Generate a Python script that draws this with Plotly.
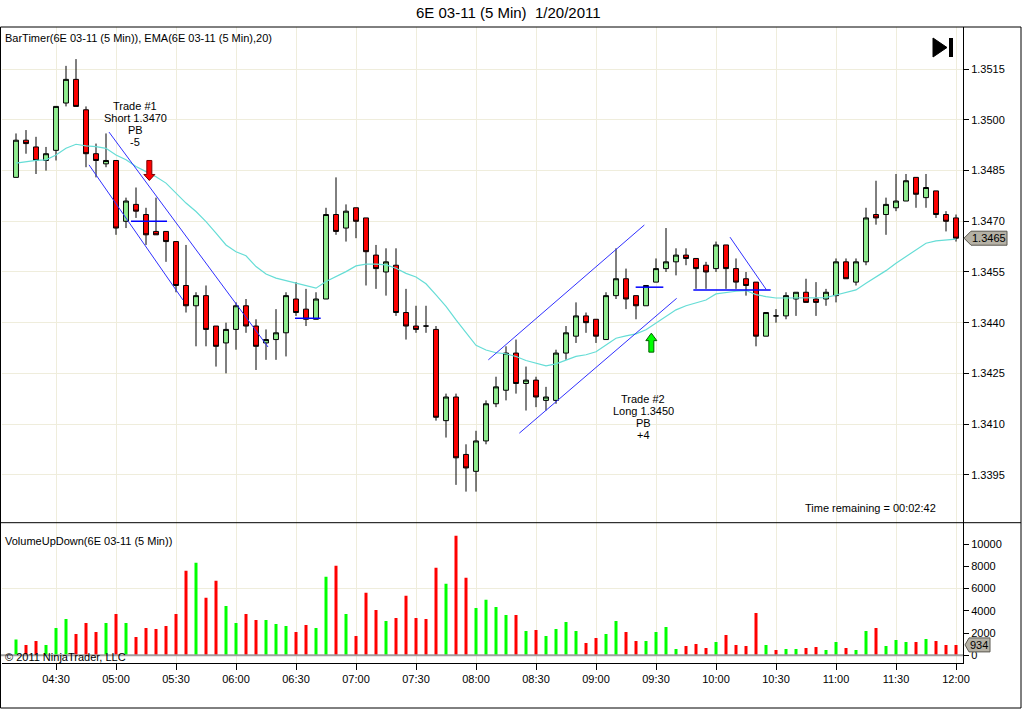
import pandas as pd
import plotly.graph_objects as go

# 5 minute bars, 6E 03-11, 20 Jan 2011
times = pd.date_range("2011-01-20 04:10", "2011-01-20 12:00", freq="5min")

opens = [1.3483, 1.3494, 1.3492, 1.3488, 1.3491, 1.3505, 1.3512, 1.3503, 1.3490, 1.3487,
         1.3488, 1.3470, 1.3475, 1.3472, 1.3467, 1.3467, 1.3464, 1.3451, 1.3445, 1.3448,
         1.3439, 1.3434, 1.3438, 1.3445, 1.3439, 1.3434, 1.3435, 1.3437, 1.3447, 1.3444,
         1.3441, 1.3447, 1.3472, 1.3468, 1.3474, 1.3471, 1.3460, 1.3455, 1.3457, 1.3443,
         1.3439, 1.3439, 1.3438, 1.3411, 1.3418, 1.3401, 1.3396, 1.3405, 1.3416, 1.3420,
         1.3431, 1.3422, 1.3423, 1.3417, 1.3417, 1.3431, 1.3436, 1.3442, 1.3441, 1.3435,
         1.3448, 1.3453, 1.3448, 1.3445, 1.3452, 1.3456, 1.3458, 1.3460, 1.3459, 1.3457,
         1.3456, 1.3463, 1.3456, 1.3453, 1.3452, 1.3436, 1.3442, 1.3442, 1.3447, 1.3449,
         1.3447, 1.3447, 1.3448, 1.3458, 1.3452, 1.3458, 1.3472, 1.3472, 1.3474, 1.3476,
         1.3483, 1.3477, 1.3479, 1.3472, 1.3471]
highs = [1.3496, 1.3497, 1.3495, 1.3492, 1.3504, 1.3516, 1.3518, 1.3504, 1.3493, 1.3496,
         1.3488, 1.3477, 1.3480, 1.3474, 1.3477, 1.3467, 1.3464, 1.3463, 1.3449, 1.3451,
         1.3439, 1.3440, 1.3446, 1.3447, 1.3441, 1.3438, 1.3444, 1.3449, 1.3452, 1.3450,
         1.3449, 1.3474, 1.3483, 1.3475, 1.3474, 1.3471, 1.3463, 1.3462, 1.3462, 1.3450,
         1.3445, 1.3445, 1.3439, 1.3419, 1.3419, 1.3404, 1.3408, 1.3417, 1.3424, 1.3433,
         1.3435, 1.3427, 1.3424, 1.3421, 1.3432, 1.3439, 1.3446, 1.3443, 1.3441, 1.3449,
         1.3462, 1.3456, 1.3448, 1.3451, 1.3459, 1.3468, 1.3462, 1.3462, 1.3459, 1.3458,
         1.3464, 1.3463, 1.3459, 1.3455, 1.3452, 1.3443, 1.3444, 1.3449, 1.3449, 1.3453,
         1.3452, 1.3450, 1.3459, 1.3459, 1.3459, 1.3474, 1.3482, 1.3477, 1.3484, 1.3484,
         1.3483, 1.3484, 1.3479, 1.3473, 1.3472]
lows = [1.3483, 1.3490, 1.3484, 1.3485, 1.3488, 1.3504, 1.3504, 1.3486, 1.3483, 1.3486,
        1.3466, 1.3468, 1.3471, 1.3463, 1.3466, 1.3458, 1.3449, 1.3443, 1.3433, 1.3433,
        1.3427, 1.3425, 1.3432, 1.3437, 1.3426, 1.3429, 1.3429, 1.3430, 1.3442, 1.3439,
        1.3441, 1.3447, 1.3466, 1.3464, 1.3465, 1.3451, 1.3450, 1.3448, 1.3442, 1.3435,
        1.3437, 1.3437, 1.3411, 1.3406, 1.3392, 1.3390, 1.3390, 1.3404, 1.3415, 1.3417,
        1.3419, 1.3414, 1.3415, 1.3414, 1.3416, 1.3429, 1.3434, 1.3437, 1.3434, 1.3435,
        1.3447, 1.3444, 1.3441, 1.3445, 1.3452, 1.3455, 1.3454, 1.3457, 1.3450, 1.3450,
        1.3455, 1.3450, 1.3450, 1.3448, 1.3433, 1.3436, 1.3440, 1.3441, 1.3442, 1.3446,
        1.3442, 1.3445, 1.3446, 1.3453, 1.3451, 1.3457, 1.3469, 1.3466, 1.3473, 1.3476,
        1.3474, 1.3474, 1.3471, 1.3467, 1.3464]
closes = [1.3494, 1.3493, 1.3488, 1.3490, 1.3504, 1.3512, 1.3504, 1.3490, 1.3488, 1.3488,
          1.3468, 1.3476, 1.3473, 1.3466, 1.3466, 1.3464, 1.3451, 1.3445, 1.3448, 1.3438,
          1.3433, 1.3438, 1.3445, 1.3439, 1.3433, 1.3435, 1.3437, 1.3448, 1.3443, 1.3441,
          1.3447, 1.3472, 1.3467, 1.3473, 1.3470, 1.3461, 1.3456, 1.3458, 1.3443, 1.3439,
          1.3438, 1.3439, 1.3412, 1.3418, 1.3400, 1.3397, 1.3405, 1.3416, 1.3421, 1.3431,
          1.3422, 1.3423, 1.3418, 1.3418, 1.3431, 1.3437, 1.3442, 1.3440, 1.3436, 1.3448,
          1.3453, 1.3447, 1.3445, 1.3451, 1.3456, 1.3458, 1.3460, 1.3459, 1.3456, 1.3455,
          1.3463, 1.3456, 1.3452, 1.3451, 1.3436, 1.3443, 1.3442, 1.3448, 1.3449, 1.3446,
          1.3446, 1.3449, 1.3458, 1.3453, 1.3458, 1.3471, 1.3471, 1.3475, 1.3476, 1.3482,
          1.3478, 1.3480, 1.3472, 1.3470, 1.3465]

# EMA(20) as drawn on the chart
ema20 = [1.34872, 1.34877, 1.34880, 1.34882, 1.34896, 1.34916, 1.34928, 1.34923, 1.34921, 1.34916,
         1.34896, 1.34882, 1.34862, 1.34847, 1.34832, 1.34813, 1.34783, 1.34754, 1.34729, 1.34699,
         1.34665, 1.34630, 1.34610, 1.34598, 1.34566, 1.34544, 1.34532, 1.34524, 1.34517, 1.34509,
         1.34502, 1.34522, 1.34536, 1.34551, 1.34568, 1.34573, 1.34573, 1.34571, 1.34561, 1.34546,
         1.34535, 1.34515, 1.34482, 1.34448, 1.34408, 1.34369, 1.34333, 1.34319, 1.34311, 1.34308,
         1.34300, 1.34288, 1.34280, 1.34272, 1.34278, 1.34288, 1.34300, 1.34305, 1.34314, 1.34334,
         1.34354, 1.34361, 1.34367, 1.34379, 1.34398, 1.34418, 1.34438, 1.34450, 1.34458, 1.34467,
         1.34485, 1.34490, 1.34493, 1.34495, 1.34483, 1.34477, 1.34473, 1.34473, 1.34473, 1.34473,
         1.34473, 1.34474, 1.34482, 1.34489, 1.34497, 1.34517, 1.34535, 1.34554, 1.34576, 1.34595,
         1.34615, 1.34635, 1.34642, 1.34645, 1.34647]

volumes = [1410, 930, 1290, 930, 2460, 3270, 1920, 2910, 2100, 2910,
           3720, 2910, 1650, 2460, 2370, 2640, 3720, 7590, 8310, 5160,
           6690, 4440, 2910, 3720, 3180, 3180, 2820, 2640, 2100, 2730,
           2460, 7050, 8040, 3720, 1740, 5610, 4080, 3090, 3360, 5340,
           3360, 3270, 7860, 6420, 10740, 6960, 4260, 4980, 4350, 3630,
           3630, 2190, 2280, 1740, 2370, 3000, 2190, 1110, 1560, 1920,
           3090, 2100, 1290, 1290, 2100, 2550, 570, 840, 1020, 660,
           1200, 1830, 930, 840, 3810, 930, 480, 570, 570, 660,
           750, 480, 1200, 660, 480, 2190, 2460, 840, 1380, 1200,
           1200, 1470, 1290, 930, 934]

price_ticks = [1.3395, 1.3410, 1.3425, 1.3440, 1.3455, 1.3470, 1.3485, 1.3500, 1.3515]
vol_ticks = [0, 2000, 4000, 6000, 8000, 10000]

# drawing objects (time, price)
trend_lines = [
    ("2011-01-20 04:56:30", 1.34964, "2011-01-20 06:16:00", 1.34328),
    ("2011-01-20 04:46:30", 1.34867, "2011-01-20 05:33:30", 1.34467),
    ("2011-01-20 08:06:10", 1.34290, "2011-01-20 09:24:10", 1.34689),
    ("2011-01-20 08:21:40", 1.34073, "2011-01-20 09:40:20", 1.34472),
    ("2011-01-20 10:07:00", 1.34653, "2011-01-20 10:25:00", 1.34499),
]
level_lines = [
    ("2011-01-20 05:07:30", "2011-01-20 05:25:30", 1.3470),
    ("2011-01-20 06:29:30", "2011-01-20 06:42:20", 1.34413),
    ("2011-01-20 09:19:50", "2011-01-20 09:33:40", 1.34505),
    ("2011-01-20 09:48:40", "2011-01-20 10:27:20", 1.34497),
]
trade1_time = "2011-01-20 05:09:30"
trade1_lines = ["Trade #1", "Short 1.3470", "PB", "-5"]
trade1_prices = [1.35041, 1.35006, 1.34970, 1.34935]
trade2_time = "2011-01-20 09:23:40"
trade2_lines = ["Trade #2", "Long 1.3450", "PB", "+4"]
trade2_prices = [1.34173, 1.34138, 1.34102, 1.34067]
short_arrow = ("2011-01-20 05:16:40", 1.34880)
long_arrow = ("2011-01-20 09:27:40", 1.34369)

FONT = "Liberation Sans, Arial, sans-serif"
GRID = "#EFEDDC"

# plot area in page pixels, used to place the frame and captions
L, R, T, B = 2, 963, 27, 663


def px(x):
    return (x - L) / (R - L)


def py(y):
    return (B - y) / (B - T)


split = py(522.7)

vol_colors = ["#00FF00" if c > o else "#FF0000" for o, c in zip(opens, closes)]

fig = go.Figure()
fig.add_trace(go.Candlestick(
    x=times, open=opens, high=highs, low=lows, close=closes,
    increasing=dict(fillcolor="#90EE90", line=dict(color="black", width=1)),
    decreasing=dict(fillcolor="#FF0000", line=dict(color="black", width=1)),
    whiskerwidth=0, yaxis="y", xaxis="x", showlegend=False))
fig.add_trace(go.Scatter(
    x=times, y=ema20, mode="lines", line=dict(color="#66DDD6", width=1.2),
    yaxis="y", xaxis="x", showlegend=False))
fig.add_trace(go.Bar(
    x=times, y=volumes, marker=dict(color=vol_colors, line=dict(width=0)),
    width=90000, yaxis="y2", xaxis="x", showlegend=False))

shapes = []
for t0, p0, t1, p1 in trend_lines:
    shapes.append(dict(type="line", xref="x", yref="y", x0=t0, y0=p0, x1=t1, y1=p1,
                       line=dict(color="#3030FF", width=1)))
for t0, t1, p in level_lines:
    shapes.append(dict(type="line", xref="x", yref="y", x0=t0, y0=p, x1=t1, y1=p,
                       line=dict(color="#0000FF", width=1.5)))

# trade arrows
shapes.append(dict(type="path", xref="x", yref="y", xsizemode="pixel", ysizemode="pixel",
                   xanchor=short_arrow[0], yanchor=short_arrow[1],
                   path="M -2.5,0 L 2.5,0 L 2.5,-14 L 5.5,-14 L 0,-20 L -5.5,-14 L -2.5,-14 Z",
                   fillcolor="#FF0000", line=dict(color="#7A0000", width=1)))
shapes.append(dict(type="path", xref="x", yref="y", xsizemode="pixel", ysizemode="pixel",
                   xanchor=long_arrow[0], yanchor=long_arrow[1],
                   path="M 0,0 L 5.5,-7.5 L 2.5,-7.5 L 2.5,-19 L -2.5,-19 L -2.5,-7.5 L -5.5,-7.5 Z",
                   fillcolor="#00FF00", line=dict(color="#006000", width=1)))

# volume zero line and single grid line
shapes.append(dict(type="line", xref="paper", yref="y2", x0=px(0.5), x1=1, y0=0, y1=0,
                   line=dict(color="#A0A0A0", width=2)))
shapes.append(dict(type="line", xref="paper", yref="y2", x0=0, x1=1, y0=6000, y1=6000,
                   line=dict(color=GRID, width=1), layer="below"))

# frame
shapes.append(dict(type="rect", xref="paper", yref="paper", x0=px(0.5), y0=py(708),
                   x1=px(1021), y1=py(27), line=dict(color="black", width=1)))
shapes.append(dict(type="line", xref="paper", yref="paper", x0=px(0.5), x1=px(1021),
                   y0=split, y1=split, line=dict(color="black", width=1)))

# "go to last bar" button
shapes.append(dict(type="path", xref="paper", yref="paper",
                   path=f"M {px(933)},{py(38)} L {px(947)},{py(47.5)} L {px(933)},{py(57)} Z",
                   fillcolor="black", line=dict(color="black", width=1)))
shapes.append(dict(type="rect", xref="paper", yref="paper", x0=px(949), x1=px(953),
                   y0=py(57), y1=py(38), fillcolor="black", line=dict(width=0)))

# last value markers on the right axes
marker_path = (f"M {px(964)},0 L {px(971)},7 L {px(1007)},7 "
               f"L {px(1007)},-7 L {px(971)},-7 Z")
shapes.append(dict(type="path", xref="paper", yref="y", ysizemode="pixel", yanchor=closes[-1],
                   path=marker_path, fillcolor="#B5B1A5", line=dict(color="#5A5850", width=1)))
vol_path = (f"M {px(965)},0 L {px(969)},7 L {px(990)},7 "
            f"L {px(990)},-7 L {px(969)},-7 Z")
shapes.append(dict(type="path", xref="paper", yref="y2", ysizemode="pixel", yanchor=volumes[-1],
                   path=vol_path, fillcolor="#B5B1A5", line=dict(color="#5A5850", width=1)))

annotations = []


def label(text, x, y, xanchor="left", size=11, xref="paper", yref="paper"):
    annotations.append(dict(text=text, x=x, y=y, xref=xref, yref=yref, xanchor=xanchor,
                            yanchor="middle", showarrow=False,
                            font=dict(family=FONT, size=size, color="black")))


label("6E 03-11 (5 Min)\u00a0 1/20/2011", px(508), py(13), xanchor="center", size=15)
label("BarTimer(6E 03-11 (5 Min)), EMA(6E 03-11 (5 Min),20)", px(3), py(38))
label("Time remaining = 00:02:42", px(938), py(508), xanchor="right")
label("VolumeUpDown(6E 03-11 (5 Min))", px(3), py(541))
label("\u00a9 2011 NinjaTrader, LLC", px(3), py(657))
for txt, p in zip(trade1_lines, trade1_prices):
    label(txt, trade1_time, p, xanchor="center", xref="x", yref="y")
for txt, p in zip(trade2_lines, trade2_prices):
    label(txt, trade2_time, p, xanchor="center", xref="x", yref="y")
annotations.append(dict(text=f"{closes[-1]:.4f}", x=px(989), y=closes[-1], xref="paper", yref="y",
                        xanchor="center", yanchor="middle", showarrow=False,
                        font=dict(family=FONT, size=11, color="black")))
annotations.append(dict(text=str(volumes[-1]), x=px(979.5), y=volumes[-1], xref="paper", yref="y2",
                        xanchor="center", yanchor="middle", showarrow=False,
                        font=dict(family=FONT, size=11, color="black")))

fig.update_layout(
    width=1024, height=709,
    margin=dict(l=L, r=1024 - R, t=T, b=709 - B),
    paper_bgcolor="white", plot_bgcolor="white",
    hovermode=False, showlegend=False,
    font=dict(family=FONT, size=11, color="black"),
    shapes=shapes, annotations=annotations,
    xaxis=dict(
        type="date", anchor="y2",
        range=["2011-01-20 04:03:00", "2011-01-20 12:03:30"],
        tick0="2011-01-20 04:30", dtick=30 * 60 * 1000, tickformat="%H:%M",
        ticks="outside", ticklen=6, tickcolor="black",
        showgrid=True, gridcolor=GRID, showline=True, linecolor="black",
        rangeslider=dict(visible=False), fixedrange=True,
        tickfont=dict(family=FONT, size=11)),
    yaxis=dict(
        domain=[split, 1], side="right", range=[1.33808, 1.35275],
        tickvals=price_ticks, ticktext=[f"{v:.4f}" for v in price_ticks],
        ticks="outside", ticklen=5, tickcolor="black",
        showgrid=True, gridcolor=GRID, zeroline=False,
        showline=True, linecolor="black", fixedrange=True,
        tickfont=dict(family=FONT, size=11)),
    yaxis2=dict(
        domain=[0, split], side="right", range=[-692, 11914],
        tickvals=vol_ticks, ticktext=[str(v) for v in vol_ticks],
        ticks="outside", ticklen=5, tickcolor="black",
        showgrid=False, zeroline=False,
        showline=True, linecolor="black", fixedrange=True,
        tickfont=dict(family=FONT, size=11)),
)

fig.write_html("out.html", config={"displayModeBar": False},
               post_script="document.body.style.margin='0';")
